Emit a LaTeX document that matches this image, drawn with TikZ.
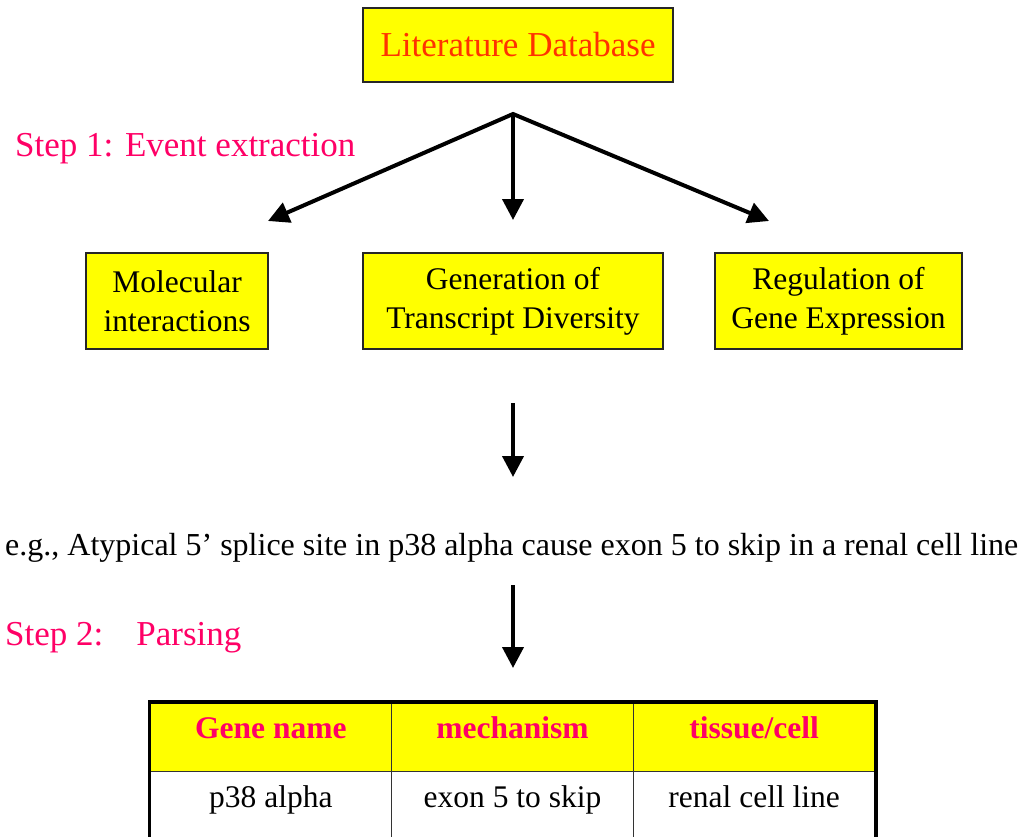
\documentclass[tikz,border=0pt]{standalone}
\usepackage{fontspec}
\setmainfont{Liberation Serif}
\usetikzlibrary{arrows.meta}
\definecolor{boxyellow}{HTML}{FFFF00}
\definecolor{titlered}{HTML}{FF3300}
\definecolor{steppink}{HTML}{FF0066}
\begin{document}
\begin{tikzpicture}[x=1pt,y=-1pt,
  box/.style={draw=black!85,line width=1.3pt,fill=boxyellow,minimum height=96pt,
    align=center,inner sep=0pt,font=\fontsize{31.5}{39}\selectfont},
  tip/.style={Triangle[width=21pt,length=21pt]},
  flow/.style={line width=4pt,-{Triangle[width=21pt,length=21pt]}},
  steplabel/.style={anchor=base west,inner sep=0pt,text=steppink,
    font=\fontsize{35}{40}\selectfont},
  cell/.style={minimum width=241.7pt,minimum height=68.5pt,inner sep=0pt,
    text height=22pt,text depth=19pt,draw=black!80,line width=1.5pt,
    font=\fontsize{31.5}{38}\selectfont},
  head/.style={cell,fill=boxyellow,text=steppink,
    font=\fontsize{31.5}{38}\selectfont\bfseries}]
\useasboundingbox (0,0) rectangle (1019,837);
\clip (0,0) rectangle (1019,837);

% source box and the three event classes
\node[box,minimum width=310pt,minimum height=74pt,text=titlered,
  font=\fontsize{35}{40}\selectfont] (db) at (518,45) {Literature Database};
\node[box,minimum width=182pt] (mol) at (177,301) {Molecular\\interactions};
\node[box,minimum width=300pt] (gen) at (513,301) {Generation of\\Transcript Diversity};
\node[box,minimum width=247pt] (reg) at (838.5,301) {Regulation of\\Gene Expression};

\node[steplabel] (s1) at (15,157) {Step 1: Event extraction};

% branching arrows
\coordinate (fork) at (513,114);
\coordinate (tipL) at (268,221);
\coordinate (tipM) at (513,220);
\coordinate (tipR) at (769,221);
\draw[line width=4pt,line join=miter,{Triangle[width=21pt,length=21pt]}-{Triangle[width=21pt,length=21pt]}]
  (tipL) -- (fork) -- (tipR);
\draw[flow] (fork) -- (tipM);

% example sentence
\coordinate (a1s) at (513,403);
\coordinate (a1e) at (513,477);
\draw[flow] (a1s) -- (a1e);
\node[anchor=base west,inner sep=0pt,font=\fontsize{32}{38}\selectfont] (ex) at (5,555)
  {e.g., Atypical 5’ splice site in p38 alpha cause exon 5 to skip in a renal cell line};

\node[steplabel] (s2) at (5,645) {Step 2:\hspace{33pt}Parsing};
\coordinate (a2s) at (513,585);
\coordinate (a2e) at (513,668);
\draw[flow] (a2s) -- (a2e);

% parsed result table
\node[head] (h1) at (270.85,737) {Gene name};
\node[head] (h2) at (512.5,737) {mechanism};
\node[head] (h3) at (754.15,737) {tissue/cell};
\node[cell] (b1) at (270.85,805.5) {p38 alpha};
\node[cell] (b2) at (512.5,805.5) {exon 5 to skip};
\node[cell] (b3) at (754.15,805.5) {renal cell line};
\draw[line width=3.5pt] (h1.north west) rectangle (b3.south east);
\end{tikzpicture}
\end{document}
